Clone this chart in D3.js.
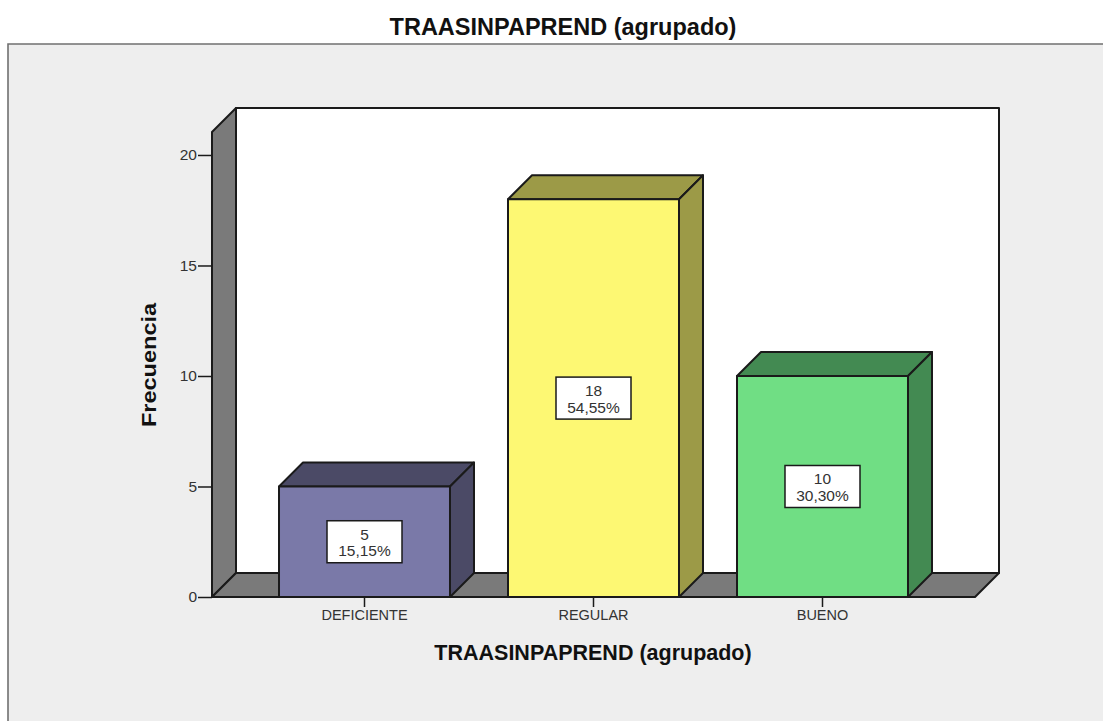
<!DOCTYPE html>
<html><head><meta charset="utf-8">
<script src="https://cdn.jsdelivr.net/npm/d3@7"></script>
<style>html,body{margin:0;padding:0;background:#fff}svg{display:block}text{font-family:"Liberation Sans",Arial,sans-serif}</style>
</head><body><svg id="c" width="1103" height="721"></svg>
<script>
const categories = ["DEFICIENTE", "REGULAR", "BUENO"];
const counts = [5, 18, 10];
const percents = ["15,15%", "54,55%", "30,30%"];
const frontColors = ["#7a79a8", "#fdf873", "#70de84"];
const sideColors = ["#4b4a66", "#9c9a47", "#438a52"];
const yTicks = [0, 5, 10, 15, 20];
const titleText = "TRAASINPAPREND (agrupado)";

const svg = d3.select("#c");
const W = 1103, H = 721;
const x0 = 212, x1 = 975, yB = 597, yT = 132, d = 24;
const y = d3.scaleLinear().domain([0, 21.04]).range([yB, yT]);
const x = d3.scaleBand().domain(categories).range([x0, x1]).paddingInner(0.2533).paddingOuter(0.2926);
const line = d3.line();
const ink = "#1a1a1a";

svg.append("rect").attr("x", 8).attr("y", 44).attr("width", W - 8).attr("height", H - 44).attr("fill", "#eeeeee");
svg.append("path").attr("d", line([[8, H], [8, 44], [W, 44]])).attr("fill", "none").attr("stroke", "#707070").attr("stroke-width", 1.6);

function poly(pts, fill, sw = 2) {
  svg.append("path").attr("d", line(pts) + "Z").attr("fill", fill).attr("stroke", ink).attr("stroke-width", sw).attr("stroke-linejoin", "round");
}
// Back wall, side wall, floor
poly([[x0 + d, yT - d], [x1 + d, yT - d], [x1 + d, yB - d], [x0 + d, yB - d]], "#ffffff");
poly([[x0, yT], [x0 + d, yT - d], [x0 + d, yB - d], [x0, yB]], "#7a7a7a");
poly([[x0, yB], [x0 + d, yB - d], [x1 + d, yB - d], [x1, yB]], "#7a7a7a");

// Y axis
const gy = svg.append("g").attr("transform", `translate(${x0},0)`)
  .call(d3.axisLeft(y).tickValues(yTicks).tickSize(14).tickPadding(1).tickFormat(d3.format("d")));
gy.select(".domain").remove();
gy.selectAll("line").attr("stroke", ink).attr("stroke-width", 1.5);
gy.selectAll("text").attr("font-size", 15.5).attr("fill", "#333").attr("font-family", '"Liberation Sans"');

// X axis
const gx = svg.append("g").attr("transform", `translate(0,${yB})`)
  .call(d3.axisBottom(x).tickSize(10).tickPadding(3));
gx.select(".domain").remove();
gx.selectAll("line").attr("stroke", ink).attr("stroke-width", 1.5);
gx.selectAll("text").attr("font-size", 14.5).attr("fill", "#333").attr("font-family", '"Liberation Sans"');

// Bars
categories.forEach((c, i) => {
  const l = x(c), r = l + x.bandwidth(), t = y(counts[i]);
  poly([[l, t], [l + d, t - d], [r + d, t - d], [r, t]], sideColors[i]);
  poly([[r, t], [r + d, t - d], [r + d, yB - d], [r, yB]], sideColors[i]);
  poly([[l, t], [r, t], [r, yB], [l, yB]], frontColors[i]);
  const cx = l + x.bandwidth() / 2, cy = (t + yB) / 2;
  svg.append("rect").attr("x", cx - 37.5).attr("y", cy - 21).attr("width", 75).attr("height", 42)
    .attr("fill", "#fff").attr("stroke", ink).attr("stroke-width", 1.5);
  svg.append("text").attr("x", cx).attr("y", cy - 2).attr("text-anchor", "middle").attr("font-size", 15.5).attr("fill", "#333").text(counts[i]);
  svg.append("text").attr("x", cx).attr("y", cy + 14.5).attr("text-anchor", "middle").attr("font-size", 15.5).attr("fill", "#333").text(percents[i]);
});

// Titles
svg.append("text").attr("x", 563).attr("y", 35).attr("text-anchor", "middle").attr("font-size", 23.5).attr("font-weight", "bold").attr("fill", "#111").text(titleText);
svg.append("text").attr("x", 593).attr("y", 660).attr("text-anchor", "middle").attr("font-size", 21.5).attr("font-weight", "bold").attr("fill", "#111").text(titleText);
svg.append("text").attr("transform", "translate(156,365) rotate(-90) scale(1.12,1)").attr("text-anchor", "middle").attr("font-size", 21).attr("font-weight", "bold").attr("fill", "#111").attr("style", "font-stretch:condensed").text("Frecuencia");
</script></body></html>
